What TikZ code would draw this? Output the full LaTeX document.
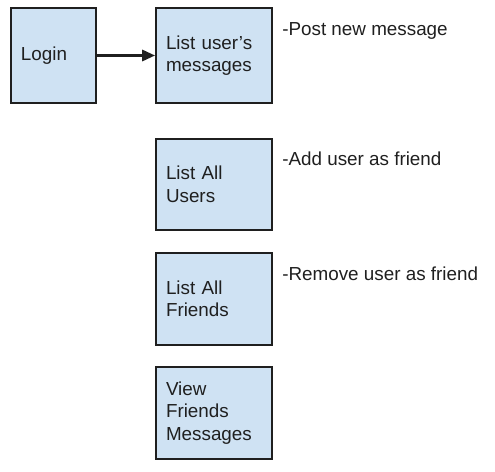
\documentclass[tikz,border=0pt]{standalone}
\usepackage{fontspec}
\setmainfont{Liberation Sans}
\usepackage{xcolor}
\usepackage{tikz}
\usetikzlibrary{arrows.meta,positioning}
\definecolor{boxfill}{HTML}{CFE2F3}
\definecolor{ink}{HTML}{1F1F1F}
\tikzset{
  screen/.style={draw=ink,fill=boxfill,line width=1.4pt,inner xsep=0.25cm,align=left,text=ink,
    font=\fontsize{13.4}{16}\selectfont,minimum height=2.33cm},
  screenwide/.style={screen,minimum width=2.9cm,text width=2.4cm},
  note/.style={anchor=base west,inner sep=0pt,text=ink,font=\fontsize{13.4}{16}\selectfont},
  arrow/.style={-{Triangle[length=0.32cm,width=0.28cm]},line width=1.7pt,color=ink},
}

\begin{document}
\begin{tikzpicture}[x=1cm,y=1cm]
    \useasboundingbox (0,0) rectangle (12.375,11.8);
    % screens
    \node[screen,minimum width=2.13cm,text width=1.63cm,minimum height=2.38cm] (login) at (1.3375,10.4125) {Login};
    \node[screenwide,minimum height=2.38cm] (messages) at (5.35,10.4125) {List user’s\\messages};
    \node[screenwide,minimum height=2.28cm] (users) at (5.35,7.1875) {List All\\Users};
    \node[screenwide,minimum height=2.3cm] (friends) at (5.35,4.325) {List All\\Friends};
    \node[screenwide,minimum height=2.3cm] (friendmsgs) at (5.35,1.475) {View\\Friends\\Messages};
    % actions
    \node[note] (post) at (7.05,10.9) {-Post new message};
    \node[note] (add) at (7.05,7.6625) {-Add user as friend};
    \node[note] (remove) at (7.05,4.7875) {-Remove user as friend};
    \draw[arrow] (login) -- (messages);
  \end{tikzpicture}
\end{document}
